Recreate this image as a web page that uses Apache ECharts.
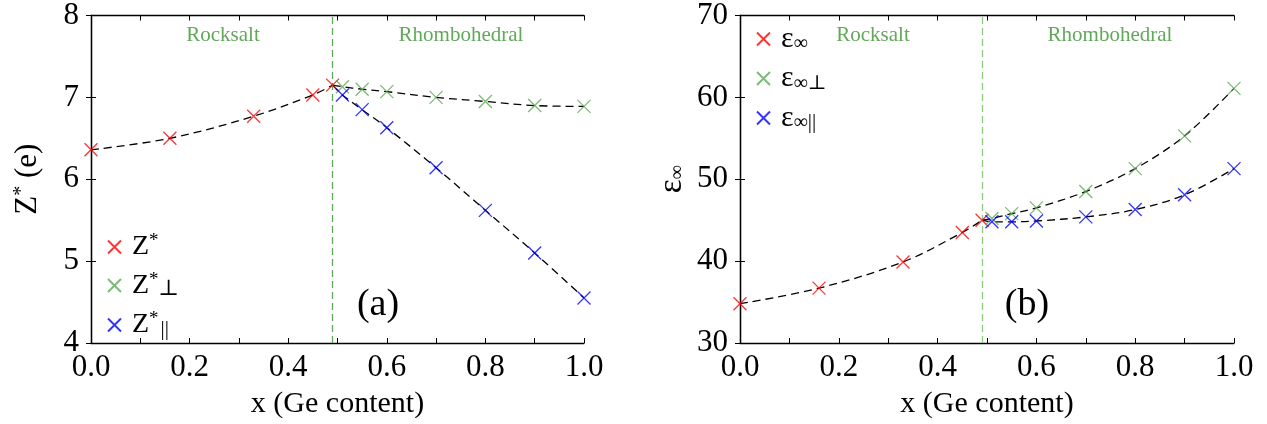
<!DOCTYPE html>
<html>
<head>
<meta charset="utf-8">
<script src="https://cdn.jsdelivr.net/npm/echarts@6/dist/echarts.min.js"></script>
<style>
  html, body { margin: 0; padding: 0; background: #fff; }
  #chart { width: 1267px; height: 424px; }
</style>
</head>
<body>
<div id="chart"></div>
<script>
// Ge content of the rocksalt and rhombohedral samples
const xRocksalt = [0, 0.16, 0.33, 0.45, 0.49];
const xRhombo = [0.51, 0.55, 0.6, 0.7, 0.8, 0.9, 1.0];
const phaseBoundary = 0.49;

// Born effective charge Z* (e)
const zStar = [6.36, 6.50, 6.77, 7.03, 7.15];
const zPerp = [7.13, 7.10, 7.07, 7.00, 6.95, 6.90, 6.89];
const zPar = [7.03, 6.85, 6.63, 6.14, 5.62, 5.10, 4.55];

// High-frequency dielectric constant
const epsInf = [34.8, 36.7, 39.9, 43.5, 45.0];
const epsPerp = [45.2, 45.8, 46.5, 48.5, 51.3, 55.3, 61.1];
const epsPar = [44.8, 44.8, 44.9, 45.4, 46.3, 48.1, 51.3];

const xTicks = [0, 0.2, 0.4, 0.6, 0.8, 1.0];

const SERIF = "'Liberation Serif', 'DejaVu Serif', serif";
const RED = '#ff0000', GREEN = '#5fa858', BLUE = '#0000ff';
const CROSS = 'path://M0 0L10 10M10 0L0 10';

const pairs = (xs, ys) => xs.map((x, i) => [x, ys[i]]);

const chart = echarts.init(document.getElementById('chart'), null, { renderer: 'canvas' });

function xAxisPair(grid) {
  const base = {
    gridIndex: grid, type: 'value', min: 0, max: 1, interval: 0.1,
    axisLine: { lineStyle: { color: '#000', width: 1.3 } },
    axisTick: { inside: true, length: 5, lineStyle: { color: '#000', width: 1 } },
    splitLine: { show: false }
  };
  return [
    Object.assign({}, base, {
      position: 'bottom',
      axisLabel: {
        color: '#000', fontFamily: SERIF, fontSize: 31, margin: 9,
        formatter: v => (xTicks.some(t => Math.abs(t - v) < 1e-6) ? v.toFixed(1) : '')
      },
      name: 'x (Ge content)', nameLocation: 'middle', nameGap: 46,
      nameTextStyle: { color: '#000', fontFamily: SERIF, fontSize: 30 }
    }),
    Object.assign({}, base, { position: 'top', axisLabel: { show: false } })
  ];
}

function yAxisPair(grid, min, max, interval, name, rich, gap) {
  const base = {
    gridIndex: grid, type: 'value', min, max, interval,
    axisLine: { lineStyle: { color: '#000', width: 1.3 } },
    axisTick: { inside: true, length: 5, lineStyle: { color: '#000', width: 1 } },
    splitLine: { show: false }
  };
  return [
    Object.assign({}, base, {
      position: 'left',
      axisLabel: { color: '#000', fontFamily: SERIF, fontSize: 31, margin: 12 },
      name, nameLocation: 'middle', nameGap: gap,
      nameTextStyle: { color: '#000', fontFamily: SERIF, fontSize: 30, rich }
    }),
    Object.assign({}, base, { position: 'right', axisLabel: { show: false } })
  ];
}

const crossSeries = (name, xi, yi, data, color) => ({
  name, type: 'scatter', xAxisIndex: xi, yAxisIndex: yi, data,
  symbol: CROSS, symbolSize: 13, z: 5,
  itemStyle: { color: 'rgba(0,0,0,0)', borderColor: color, borderWidth: 1.3 }
});

const curveSeries = (xi, yi, data, markLine) => {
  const s = {
    type: 'line', xAxisIndex: xi, yAxisIndex: yi, data,
    smooth: 0.35, symbol: 'none', z: 3, silent: true,
    lineStyle: { color: '#000', width: 1.3, type: [8, 5] }
  };
  if (markLine) s.markLine = markLine;
  return s;
};

const boundary = color => ({
  silent: true, symbol: 'none', label: { show: false },
  lineStyle: { color, width: 1.3, type: [7, 4] },
  data: [{ xAxis: phaseBoundary }]
});

const lastRock = i => [xRocksalt[xRocksalt.length - 1], i[i.length - 1]];

const legendRich = {
  z: { fontFamily: SERIF, fontSize: 28, color: '#000', lineHeight: 30 },
  sup: { fontFamily: SERIF, fontSize: 19, color: '#000', lineHeight: 8, verticalAlign: 'top' },
  sub: { fontFamily: SERIF, fontSize: 22, color: '#000', lineHeight: 8, verticalAlign: 'bottom' },
  par: { fontFamily: SERIF, fontSize: 21, color: '#000', lineHeight: 10, verticalAlign: 'bottom', padding: [0, 0, 0, 2] },
  e: { fontFamily: SERIF, fontSize: 30, color: '#000', lineHeight: 30 },
  inf: { fontFamily: SERIF, fontSize: 20, color: '#000', lineHeight: 12, verticalAlign: 'bottom' },
  infpar: { fontFamily: SERIF, fontSize: 21, color: '#000', lineHeight: 14, verticalAlign: 'bottom' }
};

const legendText = {
  'Z*': '{z|Z}{sup|*}',
  'Z*⊥': '{z|Z}{sup|*}{sub|⊥}',
  'Z*‖': '{z|Z}{sup|*}{par|||}',
  'ε∞': '{e|ε}{inf|∞}',
  'ε∞⊥': '{e|ε}{inf|∞⊥}',
  'ε∞‖': '{e|ε}{inf|∞}{infpar|||}'
};

const legendBase = {
  orient: 'vertical', itemWidth: 13, itemHeight: 13, itemGap: 9.5,
  selectedMode: false, padding: 0,
  formatter: n => legendText[n],
  textStyle: { color: '#000', fontFamily: SERIF, fontSize: 28, padding: [0, 0, 0, 6], rich: legendRich }
};

const phaseLabel = (text, x) => ({
  type: 'text', x, y: 35,
  style: { text, font: '21px ' + SERIF, fill: '#62a85a', align: 'center', verticalAlign: 'middle' }
});
const panelTag = (text, x) => ({
  type: 'text', x, y: 305,
  style: { text, font: '38px ' + SERIF, fill: '#000', align: 'center', verticalAlign: 'middle' }
});

chart.setOption({
  animation: false,
  backgroundColor: '#fff',
  grid: [
    { left: 91, top: 14, width: 493, height: 334 },
    { left: 740, top: 14, width: 494, height: 334 }
  ],
  xAxis: [...xAxisPair(0), ...xAxisPair(1)],
  yAxis: [
    ...yAxisPair(0, 4, 8, 1, '{n|Z}{s|*}{n| (e)}', {
      n: { fontFamily: SERIF, fontSize: 31, color: '#000', lineHeight: 32 },
      s: { fontFamily: SERIF, fontSize: 20, color: '#000', lineHeight: 8, verticalAlign: 'top' }
    }, 47),
    ...yAxisPair(1, 30, 70, 10, '{n|ε}{s|∞}', {
      n: { fontFamily: SERIF, fontSize: 33, color: '#000', lineHeight: 32 },
      s: { fontFamily: SERIF, fontSize: 20, color: '#000', lineHeight: 12, verticalAlign: 'bottom' }
    }, 52)
  ],
  legend: [
    Object.assign({}, legendBase, { left: 107, top: 232, data: ['Z*', 'Z*⊥', 'Z*‖'] }),
    Object.assign({}, legendBase, { left: 756, top: 24, data: ['ε∞', 'ε∞⊥', 'ε∞‖'] })
  ],
  graphic: [
    phaseLabel('Rocksalt', 223), phaseLabel('Rhombohedral', 461),
    phaseLabel('Rocksalt', 873), phaseLabel('Rhombohedral', 1110),
    panelTag('(a)', 378), panelTag('(b)', 1027)
  ],
  series: [
    // panel (a): Born effective charges
    curveSeries(0, 0, pairs(xRocksalt, zStar), boundary('#62a85a')),
    curveSeries(0, 0, [lastRock(zStar), ...pairs(xRhombo, zPerp)]),
    curveSeries(0, 0, [lastRock(zStar), ...pairs(xRhombo, zPar)]),
    crossSeries('Z*', 0, 0, pairs(xRocksalt, zStar), RED),
    crossSeries('Z*⊥', 0, 0, pairs(xRhombo, zPerp), GREEN),
    crossSeries('Z*‖', 0, 0, pairs(xRhombo, zPar), BLUE),
    // panel (b): dielectric constants
    curveSeries(2, 2, pairs(xRocksalt, epsInf), boundary('#8ccb80')),
    curveSeries(2, 2, [lastRock(epsInf), ...pairs(xRhombo, epsPerp)]),
    curveSeries(2, 2, [lastRock(epsInf), ...pairs(xRhombo, epsPar)]),
    crossSeries('ε∞', 2, 2, pairs(xRocksalt, epsInf), RED),
    crossSeries('ε∞⊥', 2, 2, pairs(xRhombo, epsPerp), GREEN),
    crossSeries('ε∞‖', 2, 2, pairs(xRhombo, epsPar), BLUE)
  ]
});
</script>
</body>
</html>
